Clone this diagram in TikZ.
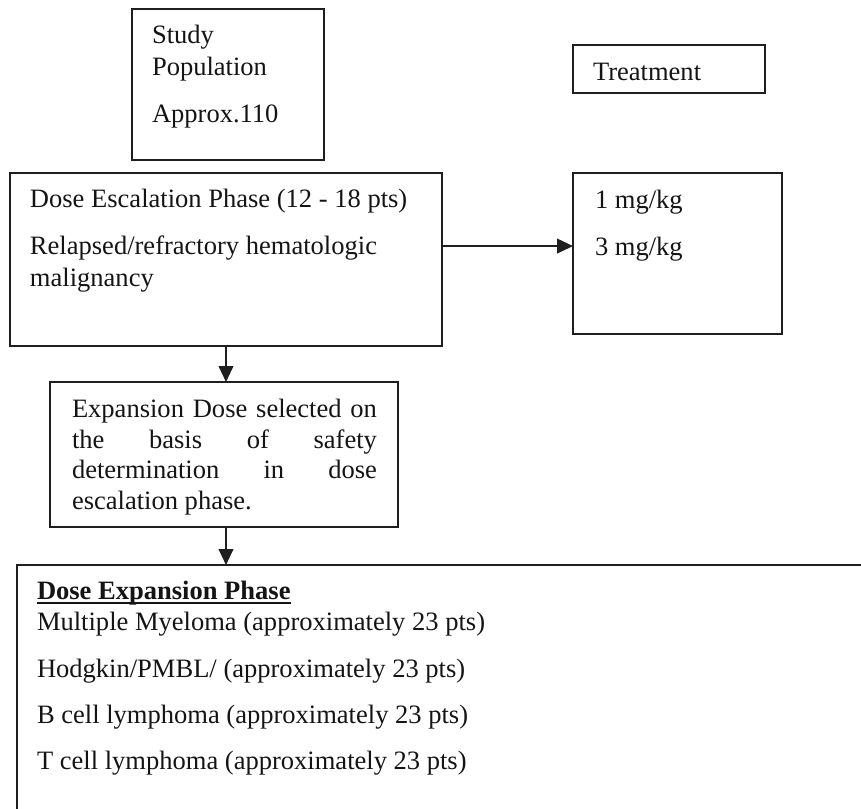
\documentclass[tikz,border=0pt]{standalone}
\usepackage{fontspec}
\setmainfont{Liberation Serif}
\usetikzlibrary{arrows.meta,calc}
\begin{document}
\begin{tikzpicture}[x=0.75pt,y=-0.75pt,
  box/.style={draw=black!88, line width=1.5pt, rectangle, inner sep=0pt, outer sep=0pt, anchor=north west},
  sz/.style 2 args={minimum width=#1*0.75pt, minimum height=#2*0.75pt},
  txt/.style={anchor=base west, inner sep=0pt, outer sep=0pt, text=black!92, font=\fontsize{19.9}{23.25}\selectfont},
  arr/.style={draw=black!88, line width=1.5pt, -{Triangle[length=12pt,width=11pt]}}]
\clip (0,0) rectangle (861,808);
% boxes
\node[box, sz={192}{151}] (study) at (132,9) {};
\node[box, sz={192}{48}] (treat) at (573,45) {};
\node[box, sz={432}{173}] (esc) at (10,173) {};
\node[box, sz={209}{161}] (doses) at (573,173) {};
\node[box, sz={348}{145}] (sel) at (50,382) {};
\node[box, sz={900}{300}] (exp) at (17,565) {};
% texts
\node[txt] (s1) at (152,43) {Study};
\node[txt] (s2) at (152,75) {Population};
\node[txt] (s3) at (152,122) {Approx.110};
\node[txt] (tr) at (593,80) {Treatment};
\node[txt] (e1) at (30,207) {Dose Escalation Phase (12 - 18 pts)};
\node[txt] (e2) at (30,254) {Relapsed/refractory hematologic};
\node[txt] (e3) at (30,286) {malignancy};
\node[txt] (d1) at (595,208) {1 mg/kg};
\node[txt] (d2) at (595,255) {3 mg/kg};
\node[txt] (x1) at (72,417) {\makebox[228.75pt][s]{Expansion Dose selected on}};
\node[txt] (x2) at (72,448) {\makebox[228.75pt][s]{the basis of safety}};
\node[txt] (x3) at (72,478) {\makebox[228.75pt][s]{determination in dose}};
\node[txt] (x4) at (72,509) {escalation phase.};
\node[txt] (p0) at (37,599) {\textbf{Dose Expansion Phase}};
\draw[line width=1.4pt, black!92] ([yshift=-3.2pt]p0.base west) -- ([yshift=-3.2pt]p0.base east);
\node[txt] (p1) at (37,630) {Multiple Myeloma (approximately 23 pts)};
\node[txt] (p2) at (37,677) {Hodgkin/PMBL/ (approximately 23 pts)};
\node[txt] (p3) at (37,723) {B cell lymphoma (approximately 23 pts)};
\node[txt] (p4) at (37,769) {T cell lymphoma (approximately 23 pts)};
% connectors
\draw[arr] ([yshift=10.1pt]esc.east) coordinate (a1) -- (a1 -| doses.west);
\draw[arr] (esc.south) -- (esc.south |- sel.north);
\draw[arr] (esc.south |- sel.south) -- (esc.south |- exp.north);
\end{tikzpicture}
\end{document}
